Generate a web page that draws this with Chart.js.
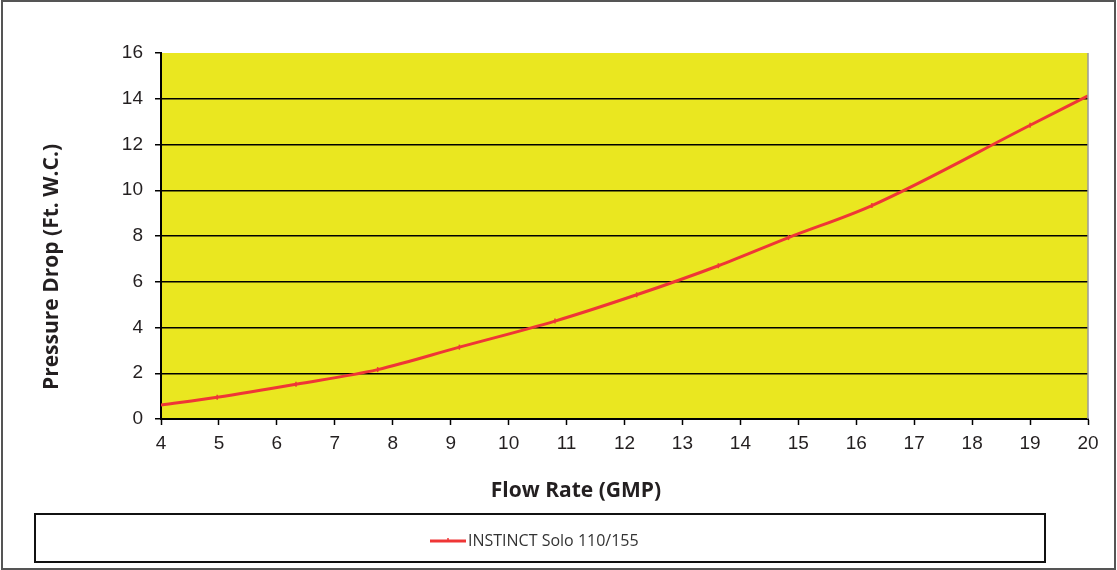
<!DOCTYPE html>
<html>
<head>
<meta charset="utf-8">
<script src="https://cdn.jsdelivr.net/npm/chart.js@4.4.1/dist/chart.umd.min.js"></script>
<style>
  html, body { margin: 0; padding: 0; background: #fff; }
  canvas { display: block; }
</style>
</head>
<body>
<canvas id="chart" width="1117" height="570"></canvas>
<script>
// Pressure drop curve - INSTINCT Solo 110/155

const seriesName = 'INSTINCT Solo 110/155';
const flowRate = [4, 4.97, 6.33, 7.74, 9.15, 10.8, 12.21, 13.62, 14.83, 16.27, 19.0, 20];
const pressureDrop = [0.61, 0.95, 1.52, 2.16, 3.14, 4.28, 5.43, 6.70, 7.93, 9.33, 12.84, 14.13];
const xTitle = 'Flow Rate (GMP)';
const yTitle = 'Pressure Drop (Ft. W.C.)';

const PLOT_BG = '#eae720';
const LINE_RED = '#ef3636';
const TEXT = '#231f20';

// yellow plot, frame, axis titles and the boxed legend
const framePlugin = {
    id: 'frame',
    beforeDraw(chart) {
        const { ctx, chartArea: a } = chart;
        ctx.save();
        ctx.fillStyle = PLOT_BG;
        ctx.fillRect(a.left, a.top, a.right - a.left, a.bottom - a.top);
        ctx.restore();
    },
    afterDraw(chart) {
        const { ctx, chartArea: a } = chart;
        ctx.save();

        ctx.strokeStyle = '#9a9a9a';
        ctx.lineWidth = 1.5;
        ctx.beginPath();
        ctx.moveTo(a.right, a.top);
        ctx.lineTo(a.right, a.bottom);
        ctx.stroke();

        ctx.strokeStyle = '#555';
        ctx.lineWidth = 2;
        ctx.strokeRect(2, 1, 1113, 568);

        ctx.fillStyle = TEXT;
        ctx.font = 'bold 21px "Open Sans"';
        ctx.textAlign = 'center';
        ctx.textBaseline = 'middle';
        ctx.fillText(xTitle, 576, 491);
        ctx.save();
        ctx.translate(52, 267);
        ctx.rotate(-Math.PI / 2);
        ctx.fillText(yTitle, 0, 0);
        ctx.restore();

        // legend
        ctx.strokeStyle = '#111';
        ctx.lineWidth = 2;
        ctx.strokeRect(35, 514, 1010, 48);
        const ds = chart.data.datasets[0];
        ctx.strokeStyle = ds.borderColor;
        ctx.lineWidth = 3;
        ctx.beginPath();
        ctx.moveTo(430, 541);
        ctx.lineTo(466, 541);
        ctx.stroke();
        ctx.lineWidth = 1.5;
        ctx.beginPath();
        ctx.moveTo(448, 538);
        ctx.lineTo(448, 541);
        ctx.stroke();
        ctx.fillStyle = '#333';
        ctx.font = '16px "Open Sans"';
        ctx.textAlign = 'left';
        ctx.fillText(ds.label, 468, 541);

        ctx.restore();
    }
};

new Chart(document.getElementById('chart'), {
    type: 'scatter',
    data: {
        datasets: [{
            label: seriesName,
            data: flowRate.map((x, i) => ({ x: x, y: pressureDrop[i] })),
            showLine: true,
            borderColor: LINE_RED,
            backgroundColor: LINE_RED,
            borderWidth: 3,
            tension: 0.4,
            cubicInterpolationMode: 'monotone',
            pointStyle: 'line',
            rotation: 90,
            pointRadius: ctx => (ctx.dataIndex === 0 || ctx.dataIndex === flowRate.length - 1) ? 0 : 2.5,
            pointBorderWidth: 1.5,
            pointBorderColor: LINE_RED
        }]
    },
    options: {
        responsive: false,
        animation: false,
        layout: { padding: { top: 53, right: 29, bottom: 0, left: 0 } },
        plugins: {
            legend: { display: false },
            tooltip: { enabled: false }
        },
        scales: {
            x: {
                type: 'linear',
                min: 4,
                max: 20,
                afterFit: s => { s.height = 151; },
                ticks: {
                    stepSize: 1,
                    padding: 7,
                    color: TEXT,
                    font: { family: '"Liberation Sans"', size: 19 }
                },
                grid: {
                    drawOnChartArea: false,
                    tickLength: 6,
                    tickColor: '#000',
                    tickWidth: 1.5
                },
                border: { display: true, color: '#000', width: 2 }
            },
            y: {
                min: 0,
                max: 16,
                afterFit: s => { s.width = 161; },
                ticks: {
                    stepSize: 2,
                    padding: 12,
                    color: TEXT,
                    font: { family: '"Liberation Sans"', size: 19 }
                },
                grid: {
                    color: ctx => ctx.tick && ctx.tick.value === 16 ? 'rgba(0,0,0,0)' : '#000',
                    lineWidth: 1.5,
                    tickLength: 6,
                    tickColor: '#000',
                    tickWidth: 1.5
                },
                border: { display: true, color: '#000', width: 2 }
            }
        }
    },
    plugins: [framePlugin]
});
</script>
</body>
</html>
